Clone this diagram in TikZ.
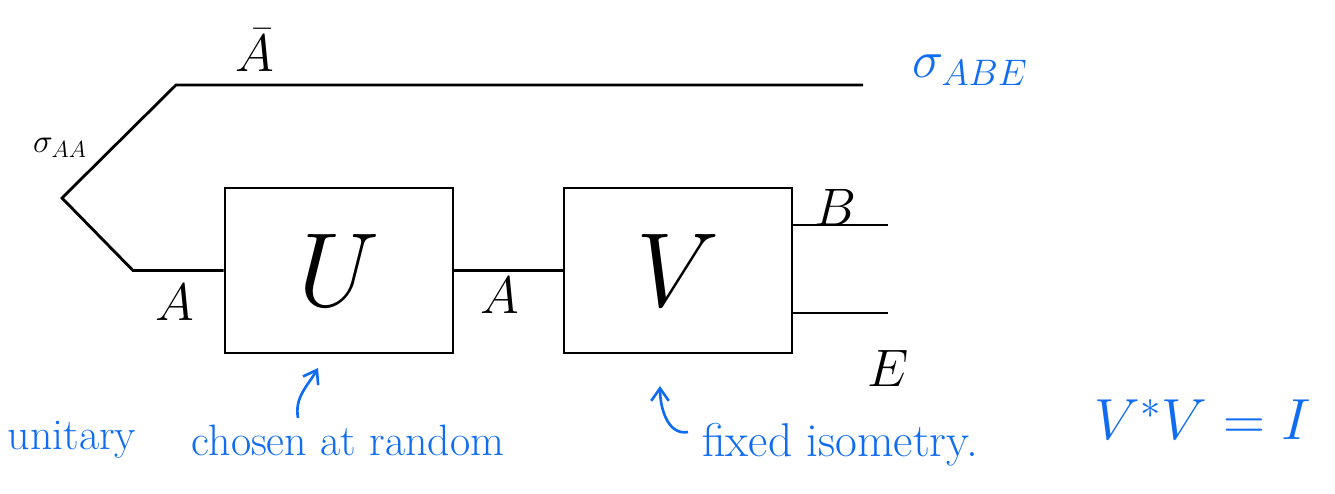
\documentclass[tikz,border=0pt]{standalone}
\usepackage{fix-cm}
\usetikzlibrary{arrows.meta}
\definecolor{inkblue}{RGB}{16,108,240}
\begin{document}
\begin{tikzpicture}[
    wire/.style={line width=1.6pt},
    gate/.style={draw, line width=1.6pt, minimum width=4.56cm, minimum height=3.3cm, inner sep=0pt, font=\fontsize{60}{60}\selectfont},
    lbl/.style={font=\fontsize{30}{32}\selectfont},
    note/.style={text=inkblue, font=\fontsize{25}{28}\selectfont},
    inkarrow/.style={draw=inkblue, line width=1.5pt, -{Straight Barb[length=2.5mm,width=3.5mm]}}
]
    \useasboundingbox (0,0) rectangle (26.7,-9.86);

    % Boxes
    \node[gate] (U) at (6.78,-5.41) {$U$};
    \node[gate] (V) at (13.56,-5.41) {$V$};

    % Wires
    \coordinate (split) at (1.24,-3.96);
    \coordinate (topL) at (3.52,-1.70);
    \coordinate (topR) at (17.26,-1.70);
    \coordinate (botL) at (2.66,-5.41);
    \coordinate (Bout) at (17.76,-4.50);
    \coordinate (Eout) at (17.76,-6.26);
    \draw[wire] (topR) -- (topL) -- (split) -- (botL) -- (U.west);
    \draw[wire] (U.east) -- (V.west);
    \draw[wire] (V.east |- Bout) -- (Bout);
    \draw[wire] (V.east |- Eout) -- (Eout);

    % Wire labels
    \node[lbl] (abar) at (5.10,-1.00) {$\bar{A}$};
    \node[font=\fontsize{19}{21}\selectfont] (sAA) at (1.20,-2.96) {$\sigma_{AA}$};
    \node[lbl] (a1) at (3.50,-6.04) {$A$};
    \node[lbl] (a2) at (10.00,-5.90) {$A$};
    \node[lbl] (b) at (16.70,-4.14) {$B$};
    \node[lbl] (e) at (17.76,-7.36) {$E$};
    \node[lbl, text=inkblue] (sABE) at (19.40,-1.40) {$\sigma_{ABE}$};

    % Notes
    \node[note] (unitary) at (1.44,-8.80) {unitary};
    \node[note] (chosen) at (6.96,-8.80) {chosen at random};
    \node[note, font=\fontsize{27}{30}\selectfont] (fixed) at (16.80,-8.90) {fixed isometry.};
    \node[text=inkblue, font=\fontsize{33}{36}\selectfont] (iso) at (24.05,-8.40) {$V^{*}V = I$};

    \coordinate (chTail) at (5.96,-8.36);
    \coordinate (chTip) at (6.36,-7.36);
    \draw[inkarrow] (chTail) to[out=100, in=240] (chTip);
    \coordinate (fxTail) at (13.76,-8.64);
    \coordinate (fxTip) at (13.20,-7.72);
    \draw[inkarrow] (fxTail) to[out=190, in=270] (fxTip);
\end{tikzpicture}
\end{document}
